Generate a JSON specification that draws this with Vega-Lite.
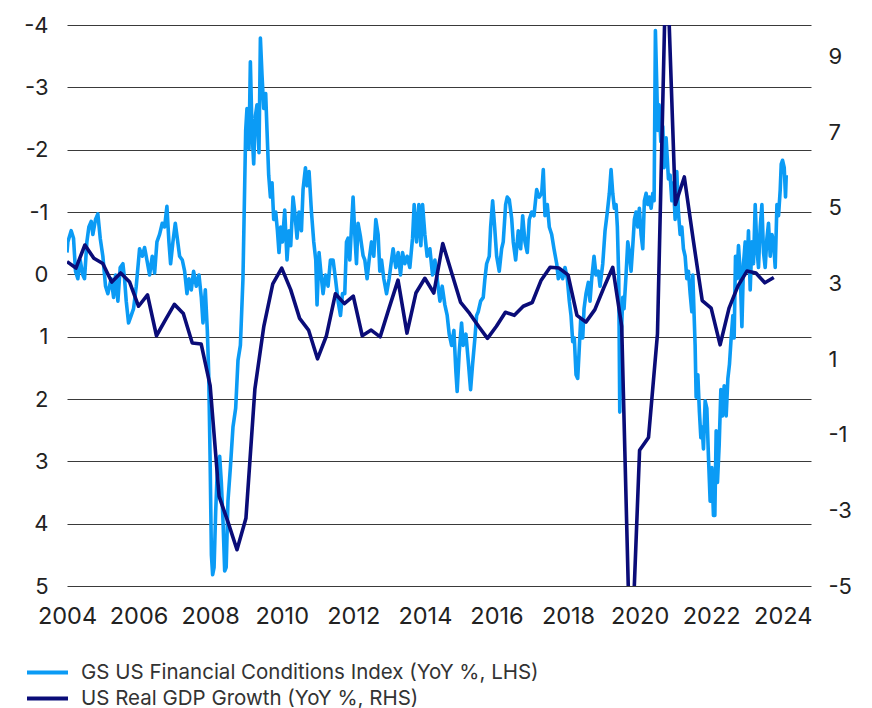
{
  "$schema": "https://vega.github.io/schema/vega-lite/v6.json",
  "autosize": "none",
  "width": 744,
  "height": 561,
  "padding": {"left": 67, "top": 25, "right": 61, "bottom": 122},
  "background": "white",
  "config": {
    "view": {"stroke": null},
    "font": "Inter",
    "axis": {"labelFont": "Inter", "labelFontSize": 22, "labelColor": "#222222", "title": null, "ticks": false, "domain": false}
  },
  "datasets": {
    "fci": [
      {"t":2004.000,"v":-0.35},{"t":2004.023,"v":-0.52},{"t":2004.117,"v":-0.70},{"t":2004.182,"v":-0.58},{"t":2004.238,"v":-0.05},{"t":2004.303,"v":0.07},{"t":2004.368,"v":-0.23},{"t":2004.443,"v":0.01},{"t":2004.490,"v":0.07},{"t":2004.555,"v":-0.52},{"t":2004.611,"v":-0.76},{"t":2004.676,"v":-0.85},{"t":2004.723,"v":-0.64},{"t":2004.797,"v":-0.88},{"t":2004.862,"v":-0.97},{"t":2004.928,"v":-0.58},
      {"t":2005.002,"v":-0.29},{"t":2005.077,"v":0.19},{"t":2005.142,"v":0.31},{"t":2005.235,"v":0.07},{"t":2005.301,"v":0.37},{"t":2005.357,"v":0.01},{"t":2005.422,"v":0.43},{"t":2005.487,"v":-0.11},{"t":2005.562,"v":-0.17},{"t":2005.608,"v":0.07},{"t":2005.655,"v":0.43},{"t":2005.720,"v":0.78},{"t":2005.795,"v":0.66},{"t":2005.860,"v":0.55},{"t":2005.935,"v":0.19},
      {"t":2006.028,"v":-0.41},{"t":2006.103,"v":-0.29},{"t":2006.168,"v":-0.43},{"t":2006.233,"v":-0.23},{"t":2006.308,"v":0.01},{"t":2006.382,"v":-0.29},{"t":2006.448,"v":-0.02},{"t":2006.513,"v":-0.52},{"t":2006.587,"v":-0.64},{"t":2006.662,"v":-0.82},{"t":2006.727,"v":-0.76},{"t":2006.792,"v":-1.09},{"t":2006.848,"v":-0.52},{"t":2006.895,"v":-0.17},{"t":2006.960,"v":-0.52},
      {"t":2007.026,"v":-0.82},{"t":2007.082,"v":-0.58},{"t":2007.147,"v":-0.29},{"t":2007.222,"v":-0.23},{"t":2007.287,"v":-0.05},{"t":2007.352,"v":0.31},{"t":2007.408,"v":0.07},{"t":2007.473,"v":0.25},{"t":2007.538,"v":-0.05},{"t":2007.613,"v":0.19},{"t":2007.688,"v":0.01},{"t":2007.753,"v":0.37},{"t":2007.800,"v":0.78},{"t":2007.865,"v":0.25},{"t":2007.921,"v":0.90},{"t":2007.960,"v":1.60},
      {"t":2008.000,"v":3.00},{"t":2008.035,"v":4.50},{"t":2008.070,"v":4.82},{"t":2008.110,"v":4.70},{"t":2008.155,"v":3.80},{"t":2008.210,"v":3.00},{"t":2008.266,"v":2.92},{"t":2008.313,"v":3.34},{"t":2008.358,"v":3.93},{"t":2008.406,"v":4.76},{"t":2008.448,"v":4.70},{"t":2008.498,"v":3.64},{"t":2008.565,"v":3.10},{"t":2008.638,"v":2.45},{"t":2008.713,"v":2.15},{"t":2008.778,"v":1.38},{"t":2008.845,"v":1.14},{"t":2008.917,"v":0.07},{"t":2008.965,"v":-1.42},{"t":2008.993,"v":-2.31},
      {"t":2009.029,"v":-2.66},{"t":2009.085,"v":-2.01},{"t":2009.124,"v":-3.41},{"t":2009.169,"v":-2.31},{"t":2009.217,"v":-1.77},{"t":2009.264,"v":-2.54},{"t":2009.309,"v":-2.72},{"t":2009.365,"v":-1.95},{"t":2009.404,"v":-3.79},{"t":2009.449,"v":-3.20},{"t":2009.497,"v":-2.66},{"t":2009.552,"v":-2.90},{"t":2009.589,"v":-2.31},{"t":2009.636,"v":-1.59},{"t":2009.684,"v":-1.24},{"t":2009.729,"v":-1.47},{"t":2009.776,"v":-0.88},{"t":2009.832,"v":-1.00},{"t":2009.880,"v":-0.70},{"t":2009.924,"v":-0.35},{"t":2009.972,"v":-0.76},
      {"t":2010.020,"v":-0.52},{"t":2010.084,"v":-1.03},{"t":2010.148,"v":-0.23},{"t":2010.204,"v":-0.70},{"t":2010.252,"v":-0.46},{"t":2010.316,"v":-1.24},{"t":2010.364,"v":-1.00},{"t":2010.428,"v":-0.58},{"t":2010.484,"v":-1.00},{"t":2010.551,"v":-0.70},{"t":2010.596,"v":-1.36},{"t":2010.663,"v":-1.71},{"t":2010.708,"v":-1.42},{"t":2010.764,"v":-1.65},{"t":2010.831,"v":-1.00},{"t":2010.895,"v":-0.52},{"t":2010.951,"v":-0.23},{"t":2010.987,"v":0.49},
      {"t":2011.043,"v":-0.35},{"t":2011.111,"v":0.07},{"t":2011.155,"v":0.31},{"t":2011.222,"v":0.01},{"t":2011.295,"v":0.19},{"t":2011.362,"v":-0.23},{"t":2011.435,"v":-0.23},{"t":2011.502,"v":0.07},{"t":2011.575,"v":0.43},{"t":2011.642,"v":0.66},{"t":2011.698,"v":0.31},{"t":2011.762,"v":0.31},{"t":2011.810,"v":-0.52},{"t":2011.854,"v":-0.58},{"t":2011.902,"v":-0.23},{"t":2011.950,"v":-0.76},{"t":2011.994,"v":-1.24},
      {"t":2012.042,"v":-0.64},{"t":2012.089,"v":-0.17},{"t":2012.134,"v":-0.82},{"t":2012.201,"v":-0.60},{"t":2012.274,"v":-0.30},{"t":2012.322,"v":-0.23},{"t":2012.386,"v":0.07},{"t":2012.442,"v":-0.23},{"t":2012.509,"v":-0.52},{"t":2012.573,"v":-0.29},{"t":2012.629,"v":-0.88},{"t":2012.694,"v":-0.64},{"t":2012.741,"v":-0.05},{"t":2012.789,"v":-0.23},{"t":2012.853,"v":0.07},{"t":2012.929,"v":0.31},
      {"t":2013.001,"v":0.07},{"t":2013.069,"v":-0.23},{"t":2013.113,"v":-0.41},{"t":2013.189,"v":-0.11},{"t":2013.253,"v":-0.35},{"t":2013.320,"v":0.01},{"t":2013.376,"v":-0.35},{"t":2013.441,"v":-0.17},{"t":2013.505,"v":-0.29},{"t":2013.580,"v":-0.11},{"t":2013.656,"v":-0.58},{"t":2013.701,"v":-1.12},{"t":2013.768,"v":-0.52},{"t":2013.832,"v":-1.12},{"t":2013.888,"v":-0.46},{"t":2013.936,"v":-1.12},
      {"t":2014.000,"v":-0.64},{"t":2014.064,"v":-0.29},{"t":2014.140,"v":-0.41},{"t":2014.215,"v":0.01},{"t":2014.280,"v":-0.23},{"t":2014.344,"v":0.07},{"t":2014.420,"v":0.43},{"t":2014.484,"v":0.19},{"t":2014.559,"v":0.49},{"t":2014.624,"v":0.66},{"t":2014.680,"v":0.96},{"t":2014.747,"v":1.14},{"t":2014.811,"v":0.90},{"t":2014.867,"v":1.56},{"t":2014.903,"v":1.88},{"t":2014.959,"v":1.26},
      {"t":2015.026,"v":0.78},{"t":2015.071,"v":1.14},{"t":2015.147,"v":0.96},{"t":2015.211,"v":1.38},{"t":2015.278,"v":1.85},{"t":2015.334,"v":1.44},{"t":2015.399,"v":1.02},{"t":2015.446,"v":0.66},{"t":2015.491,"v":0.60},{"t":2015.558,"v":0.43},{"t":2015.631,"v":0.37},{"t":2015.678,"v":0.07},{"t":2015.726,"v":-0.17},{"t":2015.799,"v":-0.29},{"t":2015.838,"v":-0.76},{"t":2015.894,"v":-1.18},{"t":2015.950,"v":-0.76},
      {"t":2016.006,"v":-0.29},{"t":2016.078,"v":-0.05},{"t":2016.145,"v":-0.41},{"t":2016.190,"v":-0.52},{"t":2016.257,"v":-1.12},{"t":2016.302,"v":-1.24},{"t":2016.358,"v":-1.20},{"t":2016.425,"v":-0.90},{"t":2016.470,"v":-0.52},{"t":2016.537,"v":-0.23},{"t":2016.610,"v":-0.70},{"t":2016.677,"v":-0.41},{"t":2016.733,"v":-0.94},{"t":2016.797,"v":-0.52},{"t":2016.862,"v":-0.35},{"t":2016.918,"v":-0.88},{"t":2016.985,"v":-1.00},
      {"t":2017.049,"v":-0.94},{"t":2017.124,"v":-1.36},{"t":2017.197,"v":-1.24},{"t":2017.264,"v":-1.30},{"t":2017.309,"v":-1.68},{"t":2017.357,"v":-0.94},{"t":2017.421,"v":-1.12},{"t":2017.477,"v":-0.76},{"t":2017.544,"v":-0.64},{"t":2017.608,"v":-0.41},{"t":2017.684,"v":-0.17},{"t":2017.729,"v":0.07},{"t":2017.796,"v":-0.05},{"t":2017.852,"v":0.07},{"t":2017.916,"v":-0.11},{"t":2017.980,"v":0.07},
      {"t":2018.036,"v":0.43},{"t":2018.084,"v":0.66},{"t":2018.131,"v":1.08},{"t":2018.176,"v":1.02},{"t":2018.224,"v":1.61},{"t":2018.271,"v":1.67},{"t":2018.308,"v":1.26},{"t":2018.355,"v":0.72},{"t":2018.411,"v":1.02},{"t":2018.448,"v":0.55},{"t":2018.503,"v":0.31},{"t":2018.568,"v":0.13},{"t":2018.615,"v":0.43},{"t":2018.663,"v":0.07},{"t":2018.727,"v":-0.29},{"t":2018.783,"v":0.01},{"t":2018.848,"v":-0.05},{"t":2018.895,"v":0.19},{"t":2018.971,"v":-0.17},
      {"t":2019.035,"v":-0.70},{"t":2019.099,"v":-1.00},{"t":2019.155,"v":-1.30},{"t":2019.203,"v":-1.68},{"t":2019.250,"v":-1.30},{"t":2019.295,"v":-1.06},{"t":2019.343,"v":-1.12},{"t":2019.379,"v":-0.76},{"t":2019.418,"v":0.07},{"t":2019.446,"v":2.21},{"t":2019.483,"v":1.08},{"t":2019.530,"v":0.37},{"t":2019.566,"v":0.55},{"t":2019.622,"v":0.01},{"t":2019.670,"v":-0.52},{"t":2019.715,"v":-0.35},{"t":2019.762,"v":-0.05},{"t":2019.810,"v":-0.46},{"t":2019.855,"v":-0.88},{"t":2019.902,"v":-1.00},{"t":2019.950,"v":-0.76},{"t":2019.994,"v":-1.06},
      {"t":2020.042,"v":-0.64},{"t":2020.089,"v":-0.41},{"t":2020.134,"v":-1.18},{"t":2020.182,"v":-1.30},{"t":2020.229,"v":-1.12},{"t":2020.274,"v":-1.24},{"t":2020.322,"v":-1.06},{"t":2020.369,"v":-1.30},{"t":2020.406,"v":-1.18},{"t":2020.442,"v":-3.91},{"t":2020.481,"v":-3.02},{"t":2020.509,"v":-2.31},{"t":2020.545,"v":-2.72},{"t":2020.593,"v":-2.13},{"t":2020.649,"v":-2.37},{"t":2020.685,"v":-1.71},{"t":2020.741,"v":-2.19},{"t":2020.806,"v":-1.53},{"t":2020.853,"v":-1.59},{"t":2020.901,"v":-1.18},{"t":2020.946,"v":-1.47},{"t":2020.993,"v":-0.88},
      {"t":2021.040,"v":-1.65},{"t":2021.085,"v":-1.00},{"t":2021.133,"v":-0.64},{"t":2021.180,"v":-0.76},{"t":2021.225,"v":-0.41},{"t":2021.273,"v":-0.29},{"t":2021.320,"v":0.07},{"t":2021.365,"v":-0.05},{"t":2021.413,"v":0.31},{"t":2021.460,"v":0.60},{"t":2021.488,"v":0.01},{"t":2021.524,"v":0.66},{"t":2021.552,"v":1.14},{"t":2021.580,"v":1.97},{"t":2021.628,"v":1.61},{"t":2021.672,"v":2.21},{"t":2021.712,"v":2.62},{"t":2021.748,"v":2.45},{"t":2021.785,"v":2.80},{"t":2021.832,"v":2.03},{"t":2021.880,"v":2.15},{"t":2021.924,"v":2.92},{"t":2021.972,"v":3.64},
      {"t":2022.020,"v":3.10},{"t":2022.064,"v":3.87},{"t":2022.103,"v":3.87},{"t":2022.140,"v":2.51},{"t":2022.176,"v":3.34},{"t":2022.224,"v":2.74},{"t":2022.271,"v":1.85},{"t":2022.316,"v":2.27},{"t":2022.364,"v":1.79},{"t":2022.420,"v":2.27},{"t":2022.467,"v":1.67},{"t":2022.512,"v":1.44},{"t":2022.559,"v":1.02},{"t":2022.607,"v":0.66},{"t":2022.643,"v":1.02},{"t":2022.680,"v":-0.29},{"t":2022.719,"v":0.07},{"t":2022.764,"v":-0.46},{"t":2022.811,"v":-0.05},{"t":2022.859,"v":0.84},{"t":2022.904,"v":-0.17},{"t":2022.951,"v":-0.52},{"t":2022.999,"v":-0.05},
      {"t":2023.043,"v":-0.70},{"t":2023.091,"v":0.25},{"t":2023.138,"v":-0.52},{"t":2023.183,"v":-0.17},{"t":2023.231,"v":-1.12},{"t":2023.278,"v":-0.41},{"t":2023.323,"v":-0.11},{"t":2023.371,"v":-0.76},{"t":2023.418,"v":-1.12},{"t":2023.463,"v":-0.35},{"t":2023.510,"v":-0.11},{"t":2023.558,"v":-0.58},{"t":2023.603,"v":-0.82},{"t":2023.650,"v":-0.29},{"t":2023.698,"v":-0.64},{"t":2023.743,"v":-0.52},{"t":2023.790,"v":-0.11},{"t":2023.838,"v":-1.12},{"t":2023.883,"v":-0.94},{"t":2023.930,"v":-1.36},{"t":2023.958,"v":-1.77},{"t":2023.994,"v":-1.83},
      {"t":2024.042,"v":-1.71},{"t":2024.078,"v":-1.24},{"t":2024.098,"v":-1.59}
    ],
    "gdp": [
      {"t":2004.00,"v":3.58},{"t":2004.25,"v":3.41},{"t":2004.50,"v":4.02},{"t":2004.75,"v":3.67},
      {"t":2005.00,"v":3.53},{"t":2005.25,"v":3.04},{"t":2005.50,"v":3.28},{"t":2005.75,"v":3.04},
      {"t":2006.00,"v":2.40},{"t":2006.25,"v":2.70},{"t":2006.50,"v":1.62},{"t":2006.75,"v":2.04},
      {"t":2007.00,"v":2.45},{"t":2007.25,"v":2.21},{"t":2007.50,"v":1.43},{"t":2007.75,"v":1.40},
      {"t":2008.00,"v":0.30},{"t":2008.25,"v":-2.63},{"t":2008.50,"v":-3.31},{"t":2008.75,"v":-4.04},
      {"t":2009.00,"v":-3.21},{"t":2009.25,"v":0.21},{"t":2009.50,"v":1.87},{"t":2009.75,"v":2.99},
      {"t":2010.00,"v":3.41},{"t":2010.25,"v":2.84},{"t":2010.50,"v":2.08},{"t":2010.75,"v":1.77},
      {"t":2011.00,"v":1.01},{"t":2011.25,"v":1.62},{"t":2011.50,"v":2.73},{"t":2011.75,"v":2.47},
      {"t":2012.00,"v":2.67},{"t":2012.25,"v":1.62},{"t":2012.50,"v":1.77},{"t":2012.75,"v":1.59},
      {"t":2013.00,"v":2.35},{"t":2013.25,"v":3.09},{"t":2013.50,"v":1.69},{"t":2013.75,"v":2.75},
      {"t":2014.00,"v":3.14},{"t":2014.25,"v":2.75},{"t":2014.50,"v":4.06},{"t":2014.75,"v":3.28},
      {"t":2015.00,"v":2.50},{"t":2015.25,"v":2.21},{"t":2015.50,"v":1.87},{"t":2015.75,"v":1.55},
      {"t":2016.00,"v":1.87},{"t":2016.25,"v":2.24},{"t":2016.50,"v":2.16},{"t":2016.75,"v":2.40},
      {"t":2017.00,"v":2.50},{"t":2017.25,"v":3.09},{"t":2017.50,"v":3.43},{"t":2017.75,"v":3.41},
      {"t":2018.00,"v":3.23},{"t":2018.25,"v":2.16},{"t":2018.50,"v":1.98},{"t":2018.75,"v":2.31},
      {"t":2019.00,"v":2.89},{"t":2019.25,"v":3.43},{"t":2019.50,"v":1.87},{"t":2019.75,"v":-7.5},
      {"t":2020.00,"v":-1.41},{"t":2020.25,"v":-1.07},{"t":2020.50,"v":1.67},{"t":2020.75,"v":12.0},
      {"t":2021.00,"v":5.09},{"t":2021.25,"v":5.82},{"t":2021.50,"v":4.15},{"t":2021.75,"v":2.55},
      {"t":2022.00,"v":2.35},{"t":2022.25,"v":1.38},{"t":2022.50,"v":2.35},{"t":2022.75,"v":2.94},
      {"t":2023.00,"v":3.33},{"t":2023.25,"v":3.28},{"t":2023.50,"v":3.02},{"t":2023.75,"v":3.16}
    ]
  },
  "layer": [
    {
      "data": {"name": "fci"},
      "mark": {"type": "line", "strokeWidth": 3.6, "clip": true, "strokeJoin": "round"},
      "encoding": {
        "x": {"field": "t", "type": "quantitative",
              "scale": {"domain": [2004, 2024.79], "nice": false, "zero": false},
              "axis": {"values": [2004,2006,2008,2010,2012,2014,2016,2018,2020,2022,2024], "format": "d", "grid": false, "labelPadding": 18, "labelFontSize": 23.5, "labelFlush": false}},
        "y": {"field": "v", "type": "quantitative",
              "scale": {"domain": [-4, 5], "reverse": true, "nice": false, "zero": false},
              "axis": {"orient": "left", "values": [-4,-3,-2,-1,0,1,2,3,4,5], "labelExpr": "'' + datum.value", "grid": true, "gridColor": "#3a3a3a", "gridWidth": 1, "gridOpacity": 1, "labelPadding": 19}},
        "color": {"datum": "GS US Financial Conditions Index (YoY %, LHS)", "type": "nominal",
                  "scale": {"domain": ["GS US Financial Conditions Index (YoY %, LHS)", "US Real GDP Growth (YoY %, RHS)"], "range": ["#0B9BF5", "#0A0C78"]},
                  "legend": {"title": null, "orient": "none", "legendX": -32, "legendY": 635, "direction": "vertical",
                             "symbolType": "M-2,0H2", "symbolSize": 420, "symbolStrokeWidth": 4,
                             "labelFont": "Inter", "labelFontSize": 20.5, "labelColor": "#333333", "labelOffset": 21, "labelLimit": 0, "rowPadding": 3}}
      }
    },
    {
      "data": {"name": "gdp"},
      "mark": {"type": "line", "strokeWidth": 3.6, "clip": true, "strokeJoin": "round"},
      "encoding": {
        "x": {"field": "t", "type": "quantitative"},
        "y": {"field": "v", "type": "quantitative",
              "scale": {"domain": [-5, 9.84], "nice": false, "zero": false},
              "axis": {"orient": "right", "values": [9,7,5,3,1,-1,-3,-5], "labelExpr": "'' + datum.value", "grid": false, "labelPadding": 17}},
        "color": {"datum": "US Real GDP Growth (YoY %, RHS)", "type": "nominal"}
      }
    }
  ],
  "resolve": {"scale": {"y": "independent"}, "axis": {"y": "independent"}}
}
